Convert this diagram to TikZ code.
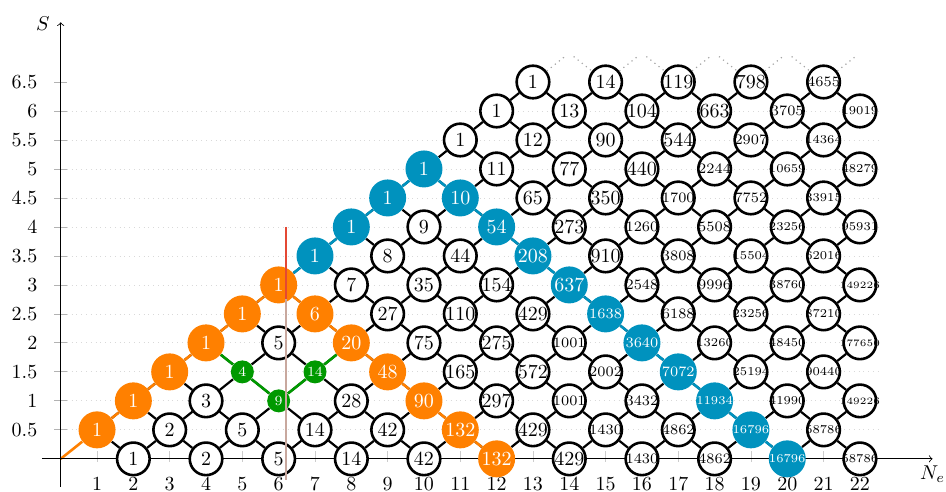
\documentclass[tikz,border=0pt]{standalone}
\usetikzlibrary{backgrounds}
\definecolor{spinorange}{RGB}{255,128,0}
\definecolor{spinblue}{RGB}{0,146,190}
\definecolor{spingreen}{RGB}{0,153,0}
\definecolor{cutred}{RGB}{228,72,52}
\definecolor{cuttan}{RGB}{200,168,158}
% smaller type for the long numbers, node size kept
\newcommand\spinval[1]{\makebox[0pt]{\ifnum#1<1000 #1\else\ifnum#1<10000 \fontsize{7.2}{8}\selectfont#1\else\ifnum#1<100000 \fontsize{6}{7}\selectfont#1\else\fontsize{4.9}{6}\selectfont#1\fi\fi\fi}}
\tikzset{
 spinnode/.style={circle,inner sep=0pt,font=\normalsize},
 wnode/.style={spinnode,draw,line width=1.3pt,fill=white,minimum size=16.3pt},
 onode/.style={spinnode,fill=spinorange,text=white,minimum size=18.5pt},
 bnode/.style={spinnode,fill=spinblue,text=white,minimum size=18.5pt},
 gnode/.style={spinnode,fill=spingreen,text=white,minimum size=11.5pt,font=\scriptsize},
 lattice/.style={line width=1.1pt},
 pathedge/.style={line width=1.3pt},
}
\begin{document}
\begin{tikzpicture}[x=18.17pt,y=29pt]
 \useasboundingbox (-1.671,-0.569) rectangle (24.37,7.914);
 % grid, ticks, axes
 \foreach \s in {0.5,1,1.5,2,2.5,3,3.5,4,4.5,5,5.5,6}
  \draw[gray!30,dotted] (0.17,\s) -- (22.5,\s);
 \foreach \s in {0.5,1,1.5,2,2.5,3,3.5,4,4.5,5,5.5,6,6.5} {
  \draw[gray!60] (-0.18,\s) -- (0.17,\s);
  \node[anchor=east] at (-0.45,\s) {$\s$};
 }
 \foreach \n in {1,...,22} {
  \draw[gray!40] (\n,0.13) -- (\n,-0.06);
  \node[inner sep=1pt] at (\n,-0.43) {$\n$};
 }
 \draw[->] (-0.515,0) -- (24,0) node[below] {$N_e$};
 \draw[->] (0,-0.48) -- (0,7.53);
 \node at (-0.49,7.5) {$S$};
 \coordinate (o) at (0,0);
 % branching diagram, column by column
 \foreach \n/\col in {
  1/{1/onode},
  2/{1/wnode,1/onode},
  3/{2/wnode,1/onode},
  4/{2/wnode,3/wnode,1/onode},
  5/{5/wnode,4/gnode,1/onode},
  6/{5/wnode,9/gnode,5/wnode,1/onode},
  7/{14/wnode,14/gnode,6/onode,1/bnode},
  8/{14/wnode,28/wnode,20/onode,7/wnode,1/bnode},
  9/{42/wnode,48/onode,27/wnode,8/wnode,1/bnode},
  10/{42/wnode,90/onode,75/wnode,35/wnode,9/wnode,1/bnode},
  11/{132/onode,165/wnode,110/wnode,44/wnode,10/bnode,1/wnode},
  12/{132/onode,297/wnode,275/wnode,154/wnode,54/bnode,11/wnode,1/wnode},
  13/{429/wnode,572/wnode,429/wnode,208/bnode,65/wnode,12/wnode,1/wnode},
  14/{429/wnode,1001/wnode,1001/wnode,637/bnode,273/wnode,77/wnode,13/wnode},
  15/{1430/wnode,2002/wnode,1638/bnode,910/wnode,350/wnode,90/wnode,14/wnode},
  16/{1430/wnode,3432/wnode,3640/bnode,2548/wnode,1260/wnode,440/wnode,104/wnode},
  17/{4862/wnode,7072/bnode,6188/wnode,3808/wnode,1700/wnode,544/wnode,119/wnode},
  18/{4862/wnode,11934/bnode,13260/wnode,9996/wnode,5508/wnode,2244/wnode,663/wnode},
  19/{16796/bnode,25194/wnode,23256/wnode,15504/wnode,7752/wnode,2907/wnode,798/wnode},
  20/{16796/bnode,41990/wnode,48450/wnode,38760/wnode,23256/wnode,10659/wnode,3705/wnode},
  21/{58786/wnode,90440/wnode,87210/wnode,62016/wnode,33915/wnode,14364/wnode,4655/wnode},
  22/{58786/wnode,149226/wnode,177650/wnode,149226/wnode,95931/wnode,48279/wnode,19019/wnode}}{
  \foreach \v/\st [count=\k from 0] in \col {
   \pgfmathtruncatemacro\j{2*\k+mod(\n,2)}
   \pgfmathtruncatemacro\m{\n-1}
   \pgfmathtruncatemacro\jd{\j-1}
   \pgfmathtruncatemacro\ju{\j+1}
   \node[\st] (n-\n-\j) at (\n,\j/2) {\spinval{\v}};
   \begin{scope}[on background layer]
    \ifnum\n>1
     \ifnum\jd>-1 \draw[lattice] (n-\m-\jd) -- (n-\n-\j); \fi
     \ifnum\ju<\n \ifnum\ju<14 \draw[lattice] (n-\m-\ju) -- (n-\n-\j); \fi\fi
    \fi
   \end{scope}
  }
 }
 % coloured paths
 \begin{scope}[on background layer]
  \draw[pathedge,spinorange] (o) -- (n-1-1) -- (n-2-2) -- (n-3-3) -- (n-4-4) -- (n-5-5) -- (n-6-6)
   -- (n-7-5) -- (n-8-4) -- (n-9-3) -- (n-10-2) -- (n-11-1) -- (n-12-0);
  \draw[pathedge,spinblue] (n-6-6) -- (n-7-7) -- (n-8-8) -- (n-9-9) -- (n-10-10) -- (n-11-9) -- (n-12-8)
   -- (n-13-7) -- (n-14-6) -- (n-15-5) -- (n-16-4) -- (n-17-3) -- (n-18-2) -- (n-19-1) -- (n-20-0);
  \draw[pathedge,spingreen] (n-4-4) -- (n-5-3) -- (n-6-2) -- (n-7-3) -- (n-8-4);
 \end{scope}
 % cut off above S=6.5
 \foreach \n in {14,16,...,22}
  \node[inner sep=2pt] (t-\n) at (\n,7) {};
 \draw[gray!70,semithick,dotted] (n-13-13) -- (t-14) -- (n-15-13) -- (t-16) -- (n-17-13)
  -- (t-18) -- (n-19-13) -- (t-20) -- (n-21-13) -- (t-22);
 % vertical marker
 \coordinate (cut-top) at (6.2,4);
 \coordinate (cut-mid) at (6.2,2.75);
 \coordinate (cut-bot) at (6.2,-0.36);
 \draw[cutred,line width=1pt] (cut-top) -- (cut-mid);
 \draw[cuttan,line width=1pt] (cut-mid) -- (cut-bot);
\end{tikzpicture}
\end{document}
